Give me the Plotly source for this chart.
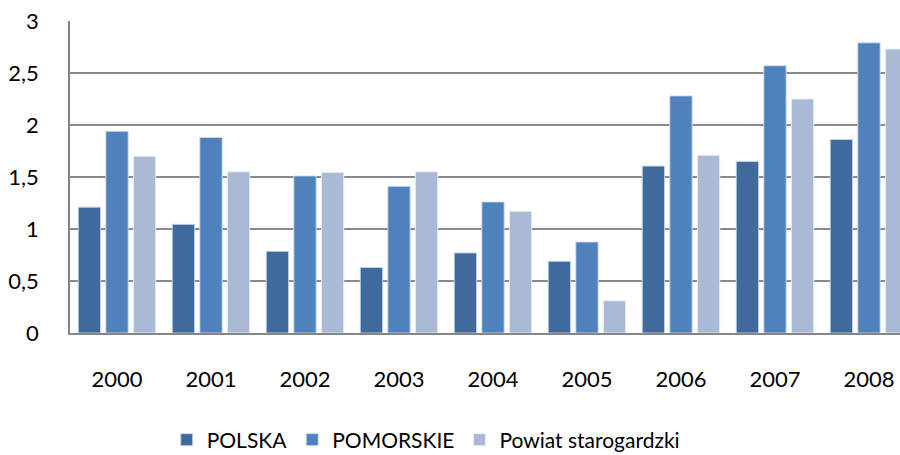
import plotly.graph_objects as go

# data
years = ["2000", "2001", "2002", "2003", "2004", "2005", "2006", "2007", "2008"]
polska = [1.21, 1.045, 0.785, 0.63, 0.77, 0.69, 1.605, 1.65, 1.86]
pomorskie = [1.94, 1.88, 1.51, 1.41, 1.26, 0.875, 2.28, 2.57, 2.79]
starogardzki = [1.70, 1.55, 1.545, 1.55, 1.17, 0.31, 1.71, 2.25, 2.73]
y_ticks = [0, 0.5, 1, 1.5, 2, 2.5, 3]
y_tick_labels = ["0", "0,5", "1", "1,5", "2", "2,5", "3"]

FONT = "Lato"
positions = list(range(len(years)))

fig = go.Figure()

series = [
    ("POLSKA", polska, "#406A9C", "rgba(200,215,235,0.9)"),
    ("POMORSKIE", pomorskie, "#4F81BD", "rgba(205,220,240,0.9)"),
    ("Powiat starogardzki", starogardzki, "#AAB9D6", "rgba(235,240,250,0.9)"),
]
for name, values, color, edge in series:
    fig.add_trace(go.Bar(x=positions, y=values, name=name,
                         marker=dict(color=color, line=dict(color=edge, width=1))))

fig.update_layout(
    width=900, height=455,
    margin=dict(l=70, r=0, t=21, b=122, autoexpand=False),
    paper_bgcolor="white", plot_bgcolor="white",
    barmode="group", bargap=0.12, bargroupgap=0.19,
    font=dict(family=FONT, size=22, color="#000000"),
    showlegend=True,
    legend=dict(orientation="h", xref="container", yref="paper",
                x=0.473, y=-0.343, xanchor="center", yanchor="middle",
                font=dict(family=FONT, size=21), itemwidth=30,
                traceorder="normal"),
)

fig.update_xaxes(
    tickmode="array", tickvals=positions, ticktext=years,
    range=[-0.5, 8.33], showgrid=False, zeroline=False, automargin=False,
    showline=True, linecolor="#868686", linewidth=1.5,
    ticks="", ticklabelstandoff=26,
)
fig.update_yaxes(
    tickmode="array", tickvals=y_ticks, ticktext=y_tick_labels,
    range=[0, 3], showgrid=True, gridcolor="#8a8a8a", gridwidth=1.5,
    zeroline=False, showline=True, linecolor="#868686", linewidth=1.5,
    automargin=False, ticks="", ticklabelstandoff=25,
)

# drop the default page margin so the chart fills the window exactly
fig.write_html("out.html", config={"displayModeBar": False},
               post_script="document.body.style.margin='0';document.body.style.overflow='hidden';")
